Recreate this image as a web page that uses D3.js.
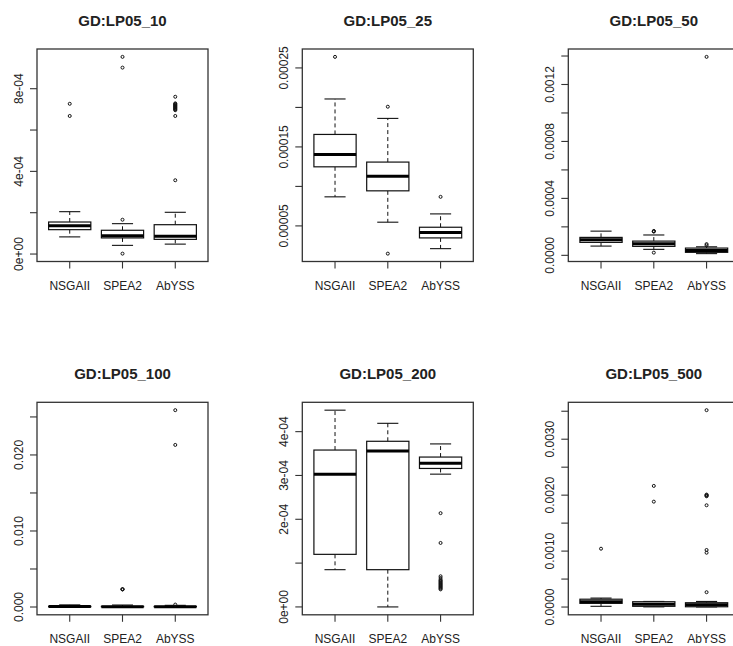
<!DOCTYPE html>
<html>
<head>
<meta charset="utf-8">
<script src="https://cdn.jsdelivr.net/npm/d3@7"></script>
<style>
  html, body { margin: 0; padding: 0; background: #fff; }
  svg { display: block; }
  text { font-family: "Liberation Sans", Arial, sans-serif; fill: #222; }
</style>
</head>
<body>
<svg id="chart" width="733" height="646"></svg>
<script>
// Algorithms compared in every panel
const algorithms = ["NSGAII", "SPEA2", "AbYSS"];

// Panel titles (row by row)
const titles = ["GD:LP05_10", "GD:LP05_25", "GD:LP05_50", "GD:LP05_100", "GD:LP05_200", "GD:LP05_500"];

// Box statistics per algorithm: [lower whisker, Q1, median, Q3, upper whisker]
const lp05_10_stats = [
  [8.3e-5, 1.18e-4, 1.37e-4, 1.55e-4, 2.05e-4],
  [4.2e-5, 7.8e-5, 8.9e-5, 1.15e-4, 1.47e-4],
  [4.8e-5, 7.1e-5, 8.6e-5, 1.42e-4, 2.02e-4]
];
const lp05_10_out = [
  [6.68e-4, 7.27e-4],
  [2e-6, 1.66e-4, 9.02e-4, 9.54e-4],
  [3.57e-4, 6.68e-4, 6.96e-4, 6.99e-4, 7.02e-4, 7.05e-4, 7.08e-4, 7.11e-4, 7.14e-4,
   7.17e-4, 7.2e-4, 7.23e-4, 7.26e-4, 7.29e-4, 7.61e-4]
];

const lp05_25_stats = [
  [8.68e-5, 1.248e-4, 1.404e-4, 1.658e-4, 2.107e-4],
  [5.47e-5, 9.44e-5, 1.13e-4, 1.308e-4, 1.861e-4],
  [2.12e-5, 3.48e-5, 4.15e-5, 4.83e-5, 6.52e-5]
];
const lp05_25_out = [
  [2.64e-4],
  [1.49e-5, 2.009e-4],
  [8.68e-5]
];

const lp05_50_stats = [
  [6.5e-5, 9.1e-5, 1.1e-4, 1.26e-4, 1.7e-4],
  [4.2e-5, 6.3e-5, 8.2e-5, 1.0e-4, 1.43e-4],
  [1.2e-5, 2.1e-5, 3.4e-5, 5.1e-5, 6.0e-5]
];
const lp05_50_out = [
  [],
  [1.9e-5, 1.67e-4, 1.69e-4, 1.71e-4],
  [7.0e-5, 7.9e-5, 1.394e-3]
];

const lp05_100_stats = [
  [1e-5, 4e-5, 6e-5, 8e-5, 2.8e-4],
  [1e-5, 3e-5, 5e-5, 8e-5, 2.6e-4],
  [1e-5, 3e-5, 5e-5, 7e-5, 2.2e-4]
];
const lp05_100_out = [
  [],
  [2.31e-3, 2.33e-3, 2.35e-3],
  [3.2e-4, 0.02132, 0.02589]
];

const lp05_200_stats = [
  [8.5e-5, 1.2e-4, 3.03e-4, 3.58e-4, 4.49e-4],
  [0, 8.5e-5, 3.56e-4, 3.78e-4, 4.19e-4],
  [3.03e-4, 3.16e-4, 3.28e-4, 3.42e-4, 3.72e-4]
];
const lp05_200_out = [
  [],
  [],
  [4.0e-5, 4.2e-5, 4.4e-5, 4.6e-5, 4.8e-5, 5.0e-5, 5.2e-5, 5.4e-5, 5.6e-5, 5.8e-5,
   6.0e-5, 6.2e-5, 6.6e-5, 7.0e-5, 1.46e-4, 2.14e-4]
];

const lp05_500_stats = [
  [1.3e-5, 6.6e-5, 9.5e-5, 1.4e-4, 1.6e-4],
  [3e-6, 1.3e-5, 5e-5, 9.5e-5, 1.0e-4],
  [2e-6, 5e-6, 4e-5, 7.7e-5, 1.0e-4]
];
const lp05_500_out = [
  [1.043e-3],
  [1.884e-3, 2.165e-3],
  [2.65e-4, 9.71e-4, 1.02e-3, 1.819e-3, 1.98e-3, 1.99e-3, 2.0e-3, 2.01e-3, 3.519e-3]
];

// Y axis ticks and their labels (empty label = unlabeled tick)
const lp05_10_ticks  = [0, 2e-4, 4e-4, 6e-4, 8e-4];
const lp05_10_labels = ["0e+00", "", "4e-04", "", "8e-04"];
const lp05_25_ticks  = [5e-5, 1e-4, 1.5e-4, 2e-4, 2.5e-4];
const lp05_25_labels = ["0.00005", "", "0.00015", "", "0.00025"];
const lp05_50_ticks  = [0, 2e-4, 4e-4, 6e-4, 8e-4, 1e-3, 1.2e-3, 1.4e-3];
const lp05_50_labels = ["0.0000", "", "0.0004", "", "0.0008", "", "0.0012", ""];
const lp05_100_ticks  = [0, 0.005, 0.01, 0.015, 0.02, 0.025];
const lp05_100_labels = ["0.000", "", "0.010", "", "0.020", ""];
const lp05_200_ticks  = [0, 1e-4, 2e-4, 3e-4, 4e-4];
const lp05_200_labels = ["0e+00", "", "2e-04", "3e-04", "4e-04"];
const lp05_500_ticks  = [0, 5e-4, 1e-3, 1.5e-3, 2e-3, 2.5e-3, 3e-3, 3.5e-3];
const lp05_500_labels = ["0.0000", "", "0.0010", "", "0.0020", "", "0.0030", ""];

const panels = [
  { title: titles[0], stats: lp05_10_stats,  out: lp05_10_out,  ticks: lp05_10_ticks,  labels: lp05_10_labels },
  { title: titles[1], stats: lp05_25_stats,  out: lp05_25_out,  ticks: lp05_25_ticks,  labels: lp05_25_labels },
  { title: titles[2], stats: lp05_50_stats,  out: lp05_50_out,  ticks: lp05_50_ticks,  labels: lp05_50_labels },
  { title: titles[3], stats: lp05_100_stats, out: lp05_100_out, ticks: lp05_100_ticks, labels: lp05_100_labels },
  { title: titles[4], stats: lp05_200_stats, out: lp05_200_out, ticks: lp05_200_ticks, labels: lp05_200_labels },
  { title: titles[5], stats: lp05_500_stats, out: lp05_500_out, ticks: lp05_500_ticks, labels: lp05_500_labels }
];

// Layout of the 2 x 3 grid of plot regions
const colLeft = [37, 302.3, 568.3];
const rowTop = [49, 402.3];
const plotW = 171;
const plotH = 212.5;
const tickLen = 7;

const svg = d3.select("#chart");

panels.forEach((p, i) => {
  const left = colLeft[i % 3];
  const top = rowTop[Math.floor(i / 3)];
  const g = svg.append("g");

  // Data range padded by 4% on each side
  const allVals = p.stats.flat().concat(p.out.flat());
  const [lo, hi] = d3.extent(allVals);
  const pad = (hi - lo) * 0.04;
  const y = d3.scaleLinear().domain([lo - pad, hi + pad]).range([top + plotH, top]);
  // Groups at 1..3 within [0.5, 3.5], padded by 4%
  const x = d3.scaleLinear().domain([0.38, 3.62]).range([left, left + plotW]);
  const unit = x(1) - x(0);
  const boxHalf = 0.4 * unit;
  const capHalf = 0.2 * unit;

  // Title
  g.append("text")
    .attr("x", left + plotW / 2)
    .attr("y", top - 23)
    .attr("text-anchor", "middle")
    .style("font-size", "15px")
    .style("font-weight", "bold")
    .text(p.title);

  // Boxes
  p.stats.forEach((s, k) => {
    const cx = x(k + 1);
    const [wl, q1, med, q3, wh] = s;
    const bg = g.append("g");
    // dashed whiskers
    bg.append("line").attr("x1", cx).attr("x2", cx).attr("y1", y(q3)).attr("y2", y(wh))
      .attr("stroke", "#111").attr("stroke-width", 1).attr("stroke-dasharray", "4,3");
    bg.append("line").attr("x1", cx).attr("x2", cx).attr("y1", y(q1)).attr("y2", y(wl))
      .attr("stroke", "#111").attr("stroke-width", 1).attr("stroke-dasharray", "4,3");
    // whisker caps
    [wl, wh].forEach(v => {
      bg.append("line").attr("x1", cx - capHalf).attr("x2", cx + capHalf)
        .attr("y1", y(v)).attr("y2", y(v))
        .attr("stroke", "#111").attr("stroke-width", 1.1);
    });
    // box
    bg.append("rect")
      .attr("x", cx - boxHalf).attr("width", 2 * boxHalf)
      .attr("y", y(q3)).attr("height", Math.max(0, y(q1) - y(q3)))
      .attr("fill", "#fff").attr("stroke", "#111").attr("stroke-width", 1.2);
    // median
    bg.append("line").attr("x1", cx - boxHalf).attr("x2", cx + boxHalf)
      .attr("y1", y(med)).attr("y2", y(med))
      .attr("stroke", "#000").attr("stroke-width", 3);
  });

  // Outliers
  p.out.forEach((vals, k) => {
    g.selectAll(null).data(vals).enter().append("circle")
      .attr("cx", x(k + 1)).attr("cy", d => y(d)).attr("r", 1.5)
      .attr("fill", "none").attr("stroke", "#111").attr("stroke-width", 1);
  });

  // Frame
  g.append("rect")
    .attr("x", left).attr("y", top).attr("width", plotW).attr("height", plotH)
    .attr("fill", "none").attr("stroke", "#333").attr("stroke-width", 1.3);

  // Y axis ticks and rotated labels
  const yAxis = g.append("g");
  yAxis.selectAll("line").data(p.ticks).enter().append("line")
    .attr("x1", left - tickLen).attr("x2", left)
    .attr("y1", d => y(d)).attr("y2", d => y(d))
    .attr("stroke", "#333").attr("stroke-width", 1.1);
  yAxis.selectAll("text").data(p.ticks).enter().append("text")
    .attr("transform", d => `translate(${left - 14},${y(d)}) rotate(-90)`)
    .attr("text-anchor", "middle")
    .style("font-size", "12px")
    .text((d, j) => p.labels[j]);

  // X axis ticks and group labels
  const xAxis = g.append("g");
  xAxis.selectAll("line").data(algorithms).enter().append("line")
    .attr("x1", (d, k) => x(k + 1)).attr("x2", (d, k) => x(k + 1))
    .attr("y1", top + plotH).attr("y2", top + plotH + tickLen)
    .attr("stroke", "#333").attr("stroke-width", 1.1);
  xAxis.selectAll("text").data(algorithms).enter().append("text")
    .attr("x", (d, k) => x(k + 1))
    .attr("y", top + plotH + 28)
    .attr("text-anchor", "middle")
    .style("font-size", "12px")
    .text(d => d);
});
</script>
</body>
</html>
